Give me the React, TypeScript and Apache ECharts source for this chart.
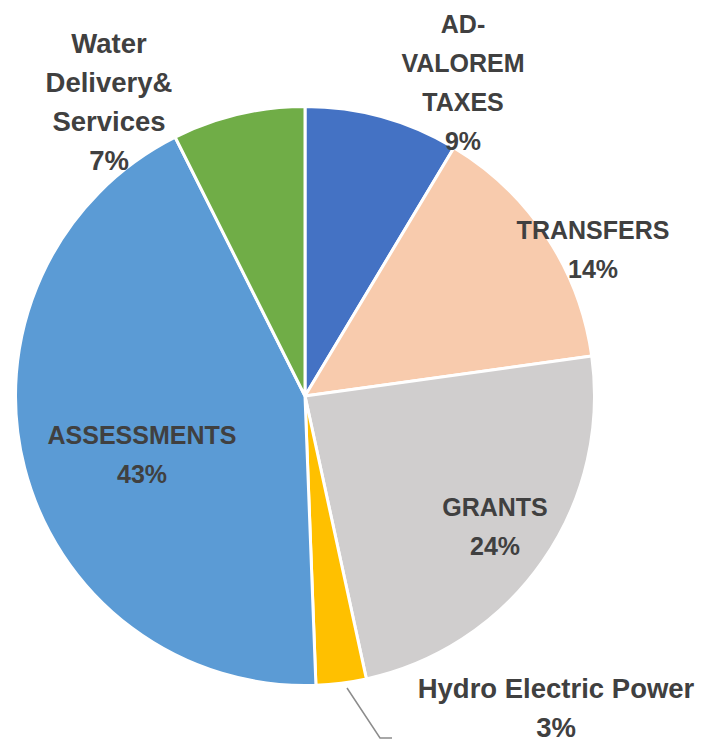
import React, { useEffect, useRef } from "react";
import * as echarts from "echarts";

const categories = [
  "AD-\nVALOREM\nTAXES",
  "TRANSFERS",
  "GRANTS",
  "Hydro Electric Power",
  "ASSESSMENTS",
  "Water\nDelivery&\nServices",
];
const values = [8.6, 14.2, 23.8, 2.8, 43.2, 7.4];
const colors = ["#4472C4", "#F8CBAD", "#D0CECE", "#FFC000", "#5B9BD5", "#70AD47"];
const labelCenters = [
  [463, 82],
  [593, 249],
  [495, 526],
  [556, 708],
  [142, 454],
  [109, 102],
];
const labelFontSizes = [25, 25, 25, 27.5, 25, 27.5];

export default function App() {
  const ref = useRef<HTMLDivElement>(null);
  useEffect(() => {
    document.body.style.margin = "0";
    const chart = echarts.init(ref.current!, null, { renderer: "svg" });
    chart.setOption({
      animation: false,
      backgroundColor: "#ffffff",
      series: [
        {
          type: "pie",
          center: [305, 396],
          radius: 289.5,
          startAngle: 90,
          clockwise: true,
          percentPrecision: 0,
          itemStyle: { borderColor: "#ffffff", borderWidth: 3 },
          label: {
            show: true,
            position: "inside",
            formatter: "{b}\n{d}%",
            color: "#404040",
            fontFamily: "Liberation Sans",
            fontWeight: "bold",
            fontSize: 25,
            lineHeight: 39,
            align: "center",
            overflow: "none",
          },
          labelLine: { show: false },
          labelLayout: (params: any) => {
            const [x, y] = labelCenters[params.dataIndex];
            const out: any = { x, y, align: "center", verticalAlign: "middle" };
            if (params.dataIndex === 3) {
              out.labelLinePoints = [
                [347, 688],
                [380, 738],
                [392, 738],
              ];
            }
            return out;
          },
          data: categories.map((name, i) => ({
            name,
            value: values[i],
            itemStyle: { color: colors[i] },
            label: {
              position: i === 3 ? "outside" : "inside",
              fontSize: labelFontSizes[i],
              overflow: "none",
            },
            labelLine:
              i === 3
                ? { show: true, lineStyle: { color: "#8c8c8c", width: 1.5 } }
                : { show: false },
          })),
        },
      ],
    });
    return () => chart.dispose();
  }, []);
  return <div ref={ref} style={{ width: 702, height: 745 }} />;
}
